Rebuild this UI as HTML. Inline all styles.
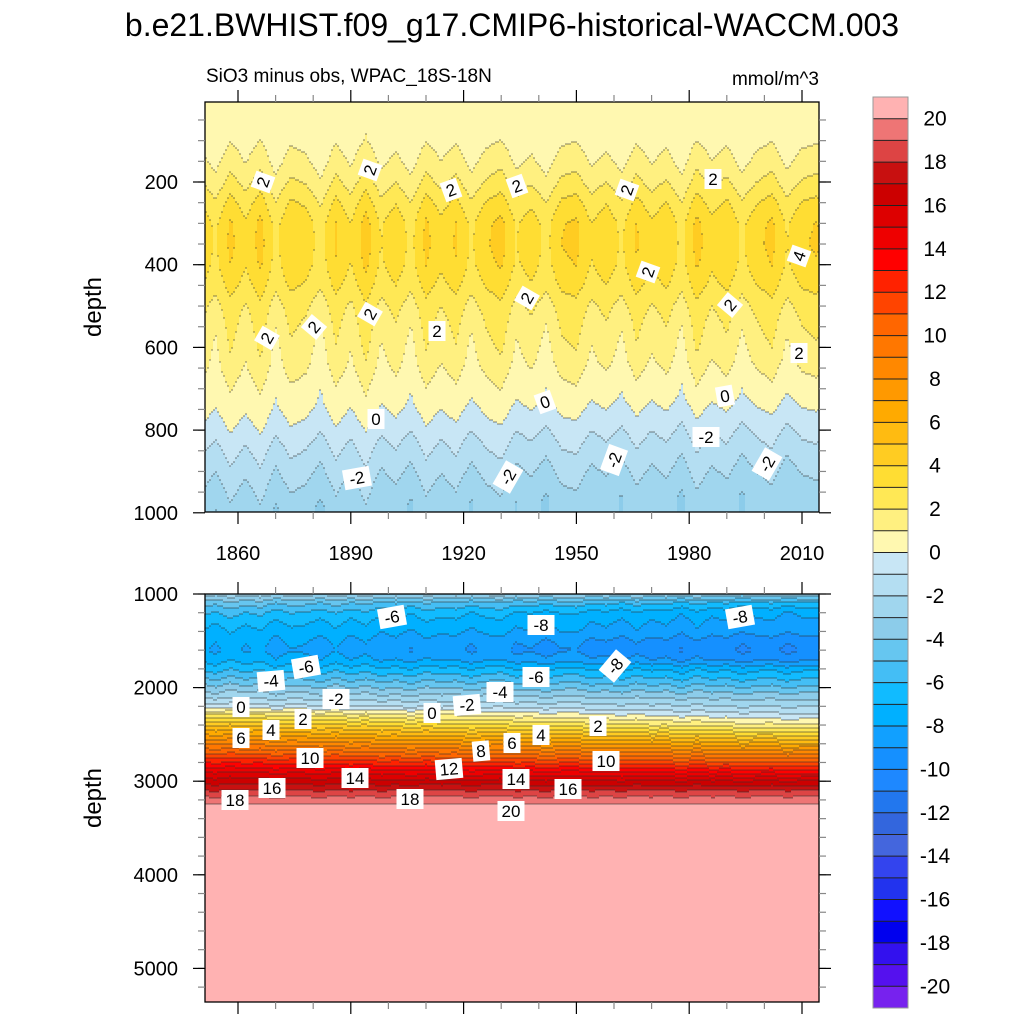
<!DOCTYPE html>
<html><head><meta charset="utf-8"><style>
body{margin:0;background:#fff}
svg{display:block;font-family:"Liberation Sans",sans-serif}
</style></head><body>
<svg id="s" width="1024" height="1024" viewBox="0 0 1024 1024">
<text x="512" y="36" font-size="32" text-anchor="middle">b.e21.BWHIST.f09_g17.CMIP6-historical-WACCM.003</text>
<text x="206" y="82" font-size="19">SiO3 minus obs, WPAC_18S-18N</text>
<text x="819" y="85" font-size="19" text-anchor="end">mmol/m^3</text>
<text transform="translate(101,307) rotate(-90)" font-size="24" text-anchor="middle">depth</text>
<text transform="translate(101,798) rotate(-90)" font-size="24" text-anchor="middle">depth</text>
<g id="top"></g>
<g id="bot"></g>
<g id="cb"></g>
</svg>
<script>
// ---- data ----
const years = [1850,1854,1858,1862,1866,1870,1874,1878,1882,1886,1890,1894,1898,1902,1906,1910,1914,1918,1922,1926,1930,1934,1938,1942,1946,1950,1954,1958,1962,1966,1970,1974,1978,1982,1986,1990,1994,1998,2002,2006,2010,2014,2018];
const topDepths = [5,50,100,150,200,250,300,350,400,450,500,550,600,650,700,750,800,850,900,950,1000];
const topProfile = [0.5,0.5,0.6,1.1,1.8,2.7,3.4,3.5,3.3,2.8,2.1,1.7,1.4,1.1,0.6,0.3,-0.3,-1.0,-1.6,-2.2,-2.7];
const topWeight = [0.3,0.4,0.6,0.9,1.0,1.2,1.3,1.3,1.2,1.0,1.0,1.2,1.2,1.0,0.8,0.7,0.7,0.8,0.8,0.8,0.8];
const topVar = [0.3,-0.5,0.6,-0.2,0.7,-0.6,0.4,0.1,-0.7,0.5,-0.3,0.8,-0.4,0.2,-0.6,0.6,-0.1,0.5,-0.5,0.3,0.7,-0.4,0.1,-0.6,0.4,0.6,-0.3,0.2,-0.5,0.5,-0.2,0.3,-0.6,0.7,-0.1,0.4,-0.5,0.2,0.6,-0.4,0.3,0.5,-0.2];
const topShift = [0,0,2,3,5,6,8,9,10,12,13,15,16,17,18,20,21,22,24,25,26,27,28,30,31,32,33,34,35,36,37,38,39,40,41,42,43,44,45,46,47,48,50];
const botDepths = [1000,1100,1200,1300,1400,1500,1600,1700,1800,1900,2000,2100,2200,2300,2400,2500,2600,2700,2800,2900,3000,3100,3200,3300,3400,5400];
const botLeft = [-2.5,-4.5,-5.8,-6.6,-7.2,-7.6,-7.9,-7.3,-6.3,-5.0,-3.6,-2.2,-0.5,2.5,5.0,7.0,9.0,11.0,13.0,15.0,16.5,18.0,19.5,20.5,21,21];
const botRight = [-3.5,-6.5,-8.0,-8.5,-8.8,-9.8,-10.2,-9.5,-7.5,-6.3,-5.0,-3.5,-2.2,-0.8,1.0,3.5,6.0,8.5,11.0,13.5,16.0,18.0,19.5,20.8,21,21];
const botBlend = [0,0.03,0.05,0.08,0.1,0.13,0.15,0.18,0.2,0.23,0.25,0.28,0.3,0.33,0.35,0.38,0.4,0.43,0.45,0.48,0.5,0.52,0.55,0.57,0.6,0.62,0.65,0.67,0.7,0.72,0.75,0.77,0.8,0.82,0.85,0.87,0.9,0.92,0.94,0.96,0.98,1,1];
const botVar = [0.2,-0.3,0.4,-0.1,0.3,-0.4,0.2,0.1,-0.3,0.4,-0.2,0.3,-0.3,0.1,-0.4,0.3,0.0,0.2,-0.3,0.2,0.4,-0.2,0.1,-0.3,0.2,0.3,-0.2,0.1,-0.3,0.3,-0.1,0.2,-0.4,0.4,-0.1,0.2,-0.3,0.1,0.3,-0.2,0.2,0.3,-0.1];
const cbLabels = [20,18,16,14,12,10,8,6,4,2,0,-2,-4,-6,-8,-10,-12,-14,-16,-18,-20];
const colors = ["#FFB2B2","#EE7575","#DD4444","#C81010","#CC0000","#DD0000","#EE0000","#FF0000","#FF2200","#FF4400","#FF6600","#FF7700","#FF8800","#FF9900","#FFAA00","#FFBB11","#FFCC22","#FFDD33","#FFE855","#FFF080","#FFF8B0",
"#C8E6F5","#B4DEF2","#A0D6EE","#8CCCEA","#66C6F0","#44BEF5","#11BBFF","#00B0FF","#11A0FF","#1590FF","#1E88FF","#2277EE","#3366DD","#4466DD","#3344EE","#2233EE","#1111FF","#0000EE","#3311EE","#5511EE","#7722EE"];
// ---- scales ----
const NS="http://www.w3.org/2000/svg";
const X0=205,X1=819;
const xs = y => 238 + (y-1860)*(802-238)/150;
const ysTop = d => 182 + (d-200)*(82.7/200);
const ysBot = d => 594 + (d-1000)*(93.6/1000);
const TOPY0=102,TOPY1=512,BOTY0=594,BOTY1=1002;
function interp(xa,ya,x){ if(x<=xa[0])return ya[0]; for(let i=1;i<xa.length;i++){ if(x<=xa[i]){const t=(x-xa[i-1])/(xa[i]-xa[i-1]);return ya[i-1]+t*(ya[i]-ya[i-1]);}} return ya[ya.length-1];}
function colIdx(v){ let k=Math.floor(v); let idx=20-k; if(idx<0)idx=0; if(idx>41)idx=41; return idx;}
function el(t,a,p){const e=document.createElementNS(NS,t);for(const k in a)e.setAttribute(k,a[k]);p.appendChild(e);return e;}
function drawField(g, y0, y1, yinv, valFn){
  const dx=2, dy=2; let lines="";
  for(let px=X0; px<X1; px+=dx){
    const yr = 1860 + (px+dx/2-238)*150/(802-238);
    let start=y0, cur=null;
    for(let py=y0; py<=y1; py+=dy){
      let c = py<y1 ? colIdx(valFn(yr, yinv(py+dy/2))) : -1;
      if(cur===null){cur=c;start=py;continue;}
      if(c!==cur){
        const r=el('rect',{x:px,y:start,width:dx+0.5,height:Math.min(py,y1)-start+0.5,fill:colors[cur]},g);
        
        
        if(c!==-1) lines+=`M${px} ${py}h${dx}`;
        cur=c;start=py;
      }
    }
  }
  const p=el('path',{d:lines,stroke:'#333',"stroke-width":0.7,fill:'none',opacity:0.8},g);
  
  
}
function colVal(arr,yr){ const f=(yr-years[0])/4; const i=Math.max(0,Math.min(years.length-2,Math.floor(f))); const t=Math.min(1,Math.max(0,f-i)); return arr[i]+(arr[i+1]-arr[i])*t;}
const topInv = py => 200 + (py-182)*200/82.7;
const botInv = py => 1000 + (py-594)*1000/93.6;
const topVal=(yr,d)=>{ const sh=colVal(topShift,yr)*Math.min(1,Math.max(0,(d-500)/250)); return interp(topDepths,topProfile,d+sh)+colVal(topVar,yr)*interp(topDepths,topWeight,d);};
const botVal=(yr,d)=>{ const b=colVal(botBlend,yr); const v=interp(botDepths,botLeft,d)*(1-b)+interp(botDepths,botRight,d)*b; const w=d<2100?1:(d<3200?0.6:0); return v+colVal(botVar,yr)*w;};
const gt=document.getElementById('top'), gb=document.getElementById('bot');
drawField(gt,TOPY0,TOPY1,topInv,topVal);
drawField(gb,BOTY0,BOTY1,botInv,botVal);
// ---- axes ----
function axes(g,y0,y1,ticks,minor,ys,showLabels){
  const f=el('rect',{x:X0,y:y0,width:X1-X0,height:y1-y0,fill:'none',stroke:'#000','stroke-width':1.3},g);
  
  for(let yr=1860;yr<=2010;yr+=10){const maj=(yr-1860)%30===0;const L=maj?12:7;
    el('line',{x1:xs(yr),x2:xs(yr),y1:y0,y2:y0-L,stroke:maj?'#000':'#888','stroke-width':1.2},g);
    el('line',{x1:xs(yr),x2:xs(yr),y1:y1,y2:y1+L,stroke:maj?'#000':'#888','stroke-width':1.2},g);
    if(maj&&showLabels){const t=el('text',{x:xs(yr),y:y1+48,'font-size':20,'text-anchor':'middle'},g);t.textContent=yr;
      }}
  minor.forEach(d=>{const y=ys(d);if(y<y0-0.5||y>y1+0.5)return;
    el('line',{x1:X0,x2:X0-7,y1:y,y2:y,stroke:'#888','stroke-width':1.2},g);
    el('line',{x1:X1,x2:X1+7,y1:y,y2:y,stroke:'#888','stroke-width':1.2},g);});
  ticks.forEach(d=>{const y=ys(d);
    el('line',{x1:X0,x2:X0-12,y1:y,y2:y,stroke:'#000','stroke-width':1.2},g);
    el('line',{x1:X1,x2:X1+12,y1:y,y2:y,stroke:'#000','stroke-width':1.2},g);
    const t=el('text',{x:178,y:y+7,'font-size':20,'text-anchor':'end'},g);t.textContent=d;
    });
}
const topTicks=[200,400,600,800,1000], topMinor=[]; for(let d=50;d<=1000;d+=50)topMinor.push(d);
const botTicks=[1000,2000,3000,4000,5000], botMinor=[]; for(let d=1000;d<=5400;d+=200)botMinor.push(d);
axes(gt,TOPY0,TOPY1,topTicks,topMinor,ysTop,true);
axes(gb,BOTY0,BOTY1,botTicks,botMinor,ysBot,false);
// contour labels
const topLbl=[[263,182,"2",-70],[370,170,"2",-70],[451,190,"2",-20],[517,186,"2",-20],[627,190,"2",-70],[713,179,"2",0],[799,256,"4",-70],[648,272,"2",-70],[527,298,"2",-60],[730,305,"2",-50],[370,314,"2",-60],[314,327,"2",-50],[267,338,"2",-60],[437,331,"2",0],[799,353,"2",0],[376,419,"0",0],[545,402,"0",-20],[725,396,"0",-10],[706,437,"-2",0],[357,478,"-2",-10],[508,477,"-2",-60],[614,460,"-2",-70],[767,464,"-2",-60]];
const botLbl=[[392,617,"-6",-10],[541,625,"-8",0],[740,617,"-8",-10],[306,667,"-6",-10],[536,677,"-6",0],[615,666,"-8",-50],[271,681,"-4",-5],[500,692,"-4",0],[336,699,"-2",0],[467,705,"-2",-5],[241,707,"0",0],[432,713,"0",0],[303,719,"2",0],[598,726,"2",0],[271,730,"4",0],[541,735,"4",0],[241,738,"6",0],[512,743,"6",0],[481,751,"8",-5],[310,758,"10",0],[606,761,"10",0],[449,769,"12",-5],[355,778,"14",0],[516,779,"14",0],[272,788,"16",0],[568,789,"16",0],[235,800,"18",0],[410,799,"18",0],[511,811,"20",0]];
function labels(arr,g){arr.forEach(([x,y,s,r])=>{const gg=el('g',{transform:`translate(${x},${y}) rotate(${r})`},g);
  
  const w=s.length*10+7; el('rect',{x:-w/2,y:-10,width:w,height:20,fill:'#fff'},gg);
  const t=el('text',{x:0,y:6,'font-size':17,'text-anchor':'middle'},gg);t.textContent=s;});}
labels(topLbl,gt);labels(botLbl,gb);
// colorbar
const cb=document.getElementById('cb'); const CBX=873,CBW=35,CBY=97,CBH=911, bh=CBH/42;
colors.forEach((c,i)=>{const r=el('rect',{x:CBX,y:CBY+i*bh,width:CBW,height:bh+0.3,fill:c},cb);
  
  if(i>0)el('line',{x1:CBX,x2:CBX+CBW,y1:CBY+i*bh,y2:CBY+i*bh,stroke:'#222','stroke-width':1},cb);});
el('rect',{x:CBX,y:CBY,width:CBW,height:CBH,fill:'none',stroke:'#999','stroke-width':1},cb);
cbLabels.forEach((v,i)=>{const t=el('text',{x:935,y:CBY+(2*i+1)*bh+7,'font-size':21,'text-anchor':'middle'},cb);t.textContent=v;
  });
</script>
</body></html>
